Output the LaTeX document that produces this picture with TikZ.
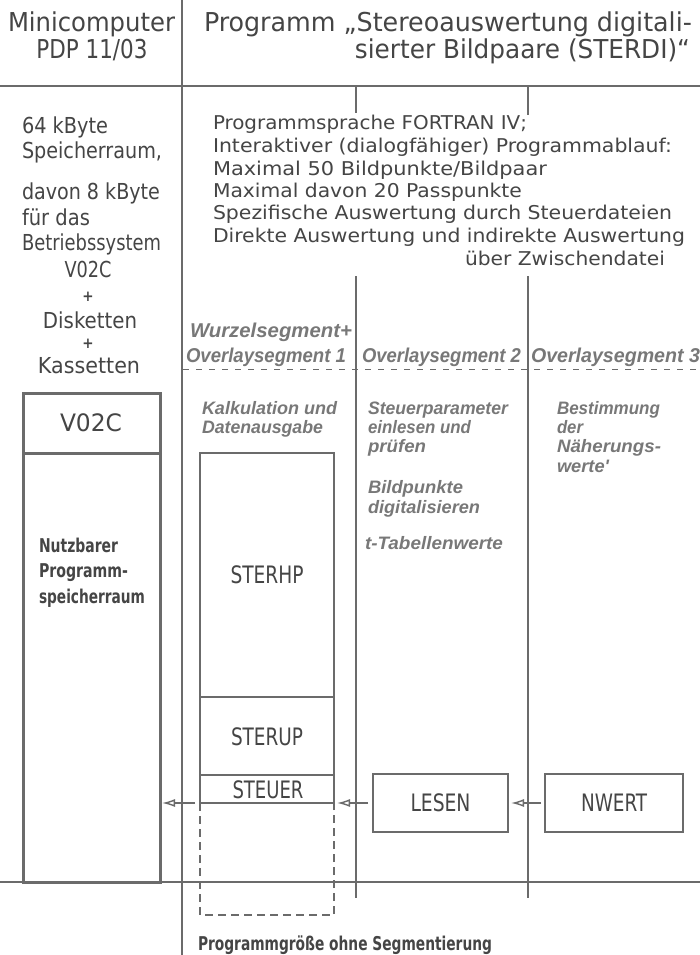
\documentclass[tikz,border=0pt]{standalone}
\usepackage{fontspec}
\usepackage{graphicx}
\usetikzlibrary{arrows.meta}
\newfontfamily\din{DejaVu Sans Condensed}
\newfontfamily\ital{Liberation Sans}
\definecolor{inkc}{gray}{0.27}
\definecolor{itc}{gray}{0.47}
\definecolor{linec}{gray}{0.42}
% stretch a line of text to a given width (pt), keeping its height
\newcommand\fw[2]{\resizebox{#1pt}{\height}{#2}}
\tikzset{
  txt/.style={inner sep=0pt, outer sep=0pt, text depth=0pt},
  hd/.style={txt, text=inkc, font=\din\fontsize{26}{26}\selectfont, text height=19pt},
  lc/.style={txt, text=inkc, font=\din\fontsize{22}{22}\selectfont, text height=16pt},
  rc/.style={txt, text=inkc, font=\din\fontsize{19}{19}\selectfont, text height=14pt},
  seg/.style={txt, text=itc, font=\ital\bfseries\itshape\fontsize{20}{20}\selectfont, text height=14pt},
  desc/.style={txt, text=itc, font=\ital\bfseries\itshape\fontsize{18}{18}\selectfont, text height=13pt},
  small/.style={txt, text=inkc, font=\din\bfseries\fontsize{19}{19}\selectfont, text height=14pt},
  plus/.style={txt, text=inkc, font=\din\bfseries\fontsize{15}{15}\selectfont, text height=10pt},
  big/.style={txt, text=inkc, font=\din\fontsize{24}{24}\selectfont, text height=17pt},
  rule/.style={draw=linec, line width=2.6pt},
  vline/.style={draw=linec, line width=1.3pt},
  membox/.style={draw=linec, line width=3pt, inner sep=0pt, outer sep=0pt},
  stackbox/.style={draw=linec, line width=2pt, inner sep=0pt, outer sep=0pt},
  modbox/.style={draw=linec, line width=2.4pt, inner sep=0pt, outer sep=0pt},
  arr/.style={draw=linec, line width=1.4pt, -{Latex[open, length=13pt, width=8pt, line width=1.4pt]}},
}
\begin{document}
\begin{tikzpicture}[x=1pt, y=-1pt]
\useasboundingbox[fill=white] (0,0) rectangle (700,955);

% frame lines
\draw[rule] (0,86) -- (700,86);
\draw[rule] (0,882) -- (700,882);
\draw[vline] (182,0) -- (182,955);
\draw[vline] (356,86) -- (356,113);
\draw[vline] (356,276) -- (356,898);
\draw[vline] (528,86) -- (528,115);
\draw[vline] (528,276) -- (528,898);
\draw[draw=linec, line width=1pt, dash pattern=on 6pt off 7pt] (183,369) -- (700,369);

% header
\node[hd, anchor=west] (hmc) at (8,22) {\fw{167}{Minicomputer}};
\node[hd] (hpdp) at (92,49) {\fw{111}{PDP 11/03}};
\node[hd, anchor=west] (hprog) at (204,22) {\fw{488}{Programm „Stereoauswertung digitali-}};
\node[hd, anchor=east] (hsier) at (690,49) {\fw{335}{sierter Bildpaare (STERDI)“}};

% left column
\node[lc, anchor=west] (l1) at (22,125) {\fw{86}{64 kByte}};
\node[lc, anchor=west] (l2) at (22,150) {\fw{140}{Speicherraum,}};
\node[lc, anchor=west] (l3) at (22,191) {\fw{138}{davon 8 kByte}};
\node[lc, anchor=west] (l4) at (22,217) {\fw{68}{für das}};
\node[lc, anchor=west] (l5) at (22,242) {\fw{139}{Betriebssystem}};
\node[lc] (l6) at (88,269) {\fw{47}{V02C}};
\node[plus] (l7) at (88,296) {+};
\node[lc] (l8) at (90,320) {\fw{94}{Disketten}};
\node[plus] (l9) at (88,343) {+};
\node[lc] (l10) at (89,365) {\fw{102}{Kassetten}};

% right column
\node[rc, anchor=west] (r1) at (213,123) {\fw{314}{Programmsprache FORTRAN IV;}};
\node[rc, anchor=west] (r2) at (213,146) {\fw{459}{Interaktiver (dialogfähiger) Programmablauf:}};
\node[rc, anchor=west] (r3) at (213,168) {\fw{334}{Maximal 50 Bildpunkte/Bildpaar}};
\node[rc, anchor=west] (r4) at (213,190) {\fw{309}{Maximal davon 20 Passpunkte}};
\node[rc, anchor=west] (r5) at (213,212) {\fw{459}{Spezifische Auswertung durch Steuerdateien}};
\node[rc, anchor=west] (r6) at (213,235) {\fw{472}{Direkte Auswertung und indirekte Auswertung}};
\node[rc, anchor=west] (r7) at (465,258) {\fw{200}{über Zwischendatei}};

% segment headings
\node[seg, anchor=west] (s0) at (190,330) {\fw{162}{Wurzelsegment+}};
\node[seg, anchor=west] (s1) at (186,355) {\fw{160}{Overlaysegment 1}};
\node[seg, anchor=west] (s2) at (362,355) {\fw{159}{Overlaysegment 2}};
\node[seg, anchor=west] (s3) at (531,355) {\fw{169}{Overlaysegment 3}};

% segment descriptions
\node[desc, anchor=west] (d1) at (202,408) {\fw{135}{Kalkulation und}};
\node[desc, anchor=west] (d2) at (202,427) {\fw{121}{Datenausgabe}};
\node[desc, anchor=west] (d3) at (368,408) {\fw{140}{Steuerparameter}};
\node[desc, anchor=west] (d4) at (368,427) {\fw{103}{einlesen und}};
\node[desc, anchor=west] (d5) at (368,446) {\fw{58}{prüfen}};
\node[desc, anchor=west] (d6) at (368,487) {\fw{95}{Bildpunkte}};
\node[desc, anchor=west] (d7) at (368,507) {\fw{112}{digitalisieren}};
\node[desc, anchor=west] (d8) at (365,543) {\fw{138}{t-Tabellenwerte}};
\node[desc, anchor=west] (d9) at (557,408) {\fw{103}{Bestimmung}};
\node[desc, anchor=west] (d10) at (557,427) {\fw{26}{der}};
\node[desc, anchor=west] (d11) at (557,446) {\fw{104}{Näherungs-}};
\node[desc, anchor=west] (d12) at (557,466) {\fw{52}{werte'}};

% memory of the minicomputer
\node[membox, minimum width=137pt, minimum height=489pt] (mem) at (91.5,637.5) {};
\draw[draw=linec, line width=3pt] (mem.west |- 0,453) -- (mem.east |- 0,453);
\node[big] (vos) at (91,423) {\fw{62}{V02C}};
\node[small, anchor=west] (n1) at (39,545) {\fw{79}{Nutzbarer}};
\node[small, anchor=west] (n2) at (39,570) {\fw{89}{Programm-}};
\node[small, anchor=west] (n3) at (39,596) {\fw{106}{speicherraum}};

% root segment stack
\node[stackbox, minimum width=134pt, minimum height=244pt] (sterhp) at (267,575) {};
\node[big] (sterhpt) at (sterhp.center) {\fw{73}{STERHP}};
\node[stackbox, minimum width=134pt, minimum height=78pt, anchor=north] (sterup) at (sterhp.south) {};
\node[big] (steruppt) at (267,737) {\fw{72}{STERUP}};
\node[stackbox, minimum width=134pt, minimum height=28pt, anchor=north] (steuer) at (sterup.south) {};
\node[big] (steuert) at (268,790) {\fw{71}{STEUER}};
\draw[draw=linec, line width=2pt, dash pattern=on 8pt off 5pt]
  (steuer.south west) -- ++(0,112) -| (steuer.south east);

% overlay modules
\node[modbox, minimum width=135pt, minimum height=58pt] (lesen) at (440.5,803) {};
\node[big] (lesent) at (lesen.center) {\fw{60}{LESEN}};
\node[modbox, minimum width=138pt, minimum height=58pt] (nwert) at (614,803) {};
\node[big] (nwertt) at (nwert.center) {\fw{66}{NWERT}};

% calls
\draw[arr, shorten <=4pt, shorten >=3pt] (nwert.west) -- (lesen.east);
\draw[arr, shorten <=5pt, shorten >=3pt] (lesen.west) -- (lesen.west -| steuer.east);
\draw[arr, shorten <=5pt, shorten >=2pt] (steuer.south west) -- (steuer.south west -| mem.east);

% footnote
\node[small, anchor=west] (foot) at (198,943) {\fw{294}{Programmgröße ohne Segmentierung}};
\end{tikzpicture}
\end{document}
